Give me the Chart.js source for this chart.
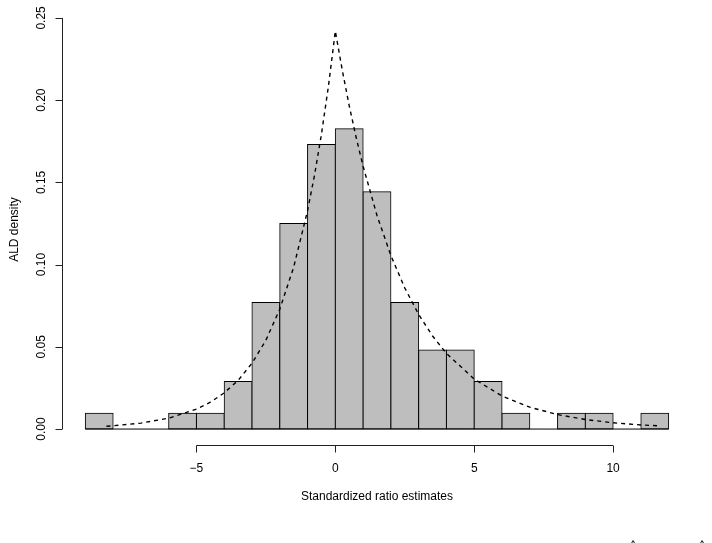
<!DOCTYPE html>
<html>
<head>
<meta charset="utf-8">
<title>ALD density</title>
<script src="https://cdn.jsdelivr.net/npm/chart.js@4.4.1/dist/chart.umd.min.js"></script>
<style>
  html, body { margin: 0; padding: 0; background: #fff; }
  #wrap { width: 712px; height: 543px; }
</style>
</head>
<body>
<div id="wrap"><canvas id="myChart" width="712" height="543"></canvas></div>
<script>
// histogram bins (width 1), counts
const binMids = [-8.5, -7.5, -6.5, -5.5, -4.5, -3.5, -2.5, -1.5, -0.5, 0.5, 1.5,
                 2.5, 3.5, 4.5, 5.5, 6.5, 7.5, 8.5, 9.5, 10.5, 11.5];
const binCounts = [1, 0, 0, 1, 1, 3, 8, 13, 18, 19, 15, 8, 5, 5, 3, 1, 0, 1, 1, 0, 1];
const binWidth = 1;

// dashed ALD density curve
const curveX = [-8.24, -8, -7, -6, -5, -4.5, -4, -3.5, -3, -2.5, -2, -1.5, -1, -0.75, -0.5, -0.25,
                0, 0.25, 0.5, 0.75, 1, 1.5, 2, 2.5, 3, 3.5, 4, 5, 6, 7, 8, 9, 10, 11, 11.58];
const curveY = [0.0017, 0.0020, 0.0036, 0.0066, 0.0121, 0.0163, 0.0220, 0.0296, 0.0400, 0.0540,
                0.0729, 0.0984, 0.1328, 0.1543, 0.1793, 0.2083, 0.2420, 0.2182, 0.1966, 0.1773,
                0.1598, 0.1299, 0.1055, 0.0858, 0.0697, 0.0566, 0.0460, 0.0304, 0.0201, 0.0133,
                0.0088, 0.0058, 0.0038, 0.0025, 0.0020];

const xTicks = [-5, 0, 5, 10];
const yTicks = [0, 0.05, 0.10, 0.15, 0.20, 0.25];
const yTickLabels = ['0.00', '0.05', '0.10', '0.15', '0.20', '0.25'];
const xTitle = 'Standardized ratio estimates';
const yTitle = 'ALD density';

const total = binCounts.reduce((a, b) => a + b, 0);
const barData = binMids.map((m, i) => ({ x: m, y: binCounts[i] / (total * binWidth) }));
const curveData = curveX.map((x, i) => ({ x: x, y: curveY[i] }));
const baseData = [
  { x: binMids[0] - binWidth / 2, y: 0 },
  { x: binMids[binMids.length - 1] + binWidth / 2, y: 0 }
];

const FONT = '12px "Liberation Sans", Arial, Helvetica, sans-serif';

// R style axes: line only from first to last tick, ticks pointing out
const rAxes = {
  id: 'rAxes',
  afterDraw(chart) {
    const ctx = chart.ctx;
    const xs = chart.scales.x;
    const ys = chart.scales.y;
    const area = chart.chartArea;
    ctx.save();
    ctx.strokeStyle = '#222';
    ctx.fillStyle = '#000';
    ctx.lineWidth = 1;
    ctx.font = FONT;

    // y axis
    const ax = Math.round(area.left) + 0.5;
    ctx.beginPath();
    ctx.moveTo(ax, ys.getPixelForValue(yTicks[0]));
    ctx.lineTo(ax, ys.getPixelForValue(yTicks[yTicks.length - 1]));
    yTicks.forEach(v => {
      const py = Math.round(ys.getPixelForValue(v)) + 0.5;
      ctx.moveTo(ax, py);
      ctx.lineTo(ax - 7, py);
    });
    ctx.stroke();
    ctx.textAlign = 'center';
    ctx.textBaseline = 'alphabetic';
    yTicks.forEach((v, i) => {
      ctx.save();
      ctx.translate(area.left - 17, ys.getPixelForValue(v));
      ctx.rotate(-Math.PI / 2);
      ctx.fillText(yTickLabels[i], 0, 0);
      ctx.restore();
    });

    // x axis
    const ay = Math.round(area.bottom) + 0.5;
    ctx.beginPath();
    ctx.moveTo(xs.getPixelForValue(xTicks[0]), ay);
    ctx.lineTo(xs.getPixelForValue(xTicks[xTicks.length - 1]), ay);
    xTicks.forEach(v => {
      const px = Math.round(xs.getPixelForValue(v)) + 0.5;
      ctx.moveTo(px, ay);
      ctx.lineTo(px, ay + 7);
    });
    ctx.stroke();
    xTicks.forEach(v => {
      const lbl = v < 0 ? '\u2212' + Math.abs(v) : String(v);
      ctx.fillText(lbl, xs.getPixelForValue(v), area.bottom + 27);
    });

    // titles
    ctx.fillText(xTitle, (area.left + area.right) / 2, area.bottom + 55);
    ctx.save();
    ctx.translate(18, (area.top + area.bottom) / 2);
    ctx.rotate(-Math.PI / 2);
    ctx.fillText(yTitle, 0, 0);
    ctx.restore();

    // clipped hats at the bottom edge
    ctx.fillText('^', 633, 549);
    ctx.fillText('^', 702, 549);
    ctx.restore();
  }
};

const ctx = document.getElementById('myChart').getContext('2d');

const chartConfig = {
  type: 'bar',
  data: {
    datasets: [
      {
        type: 'line',
        data: curveData,
        borderColor: '#000',
        borderWidth: 1.4,
        borderDash: [4, 4],
        pointRadius: 0,
        tension: 0,
        fill: false,
        order: 0
      },
      {
        type: 'line',
        data: baseData,
        borderColor: '#000',
        borderWidth: 1,
        pointRadius: 0,
        fill: false,
        order: 1
      },
      {
        type: 'bar',
        data: barData,
        backgroundColor: '#bebebe',
        borderColor: '#000',
        borderWidth: 1,
        borderSkipped: false,
        inflateAmount: 0.5,
        barPercentage: 1,
        categoryPercentage: 1,
        grouped: false,
        order: 2
      }
    ]
  },
  options: {
    responsive: false,
    animation: false,
    devicePixelRatio: 1,
    layout: { padding: { left: 62, right: 20, top: 14, bottom: 98 } },
    plugins: {
      legend: { display: false },
      tooltip: { enabled: false }
    },
    scales: {
      x: {
        type: 'linear',
        display: false,
        offset: false,
        bounds: 'data',
        min: -9.84,
        max: 12.84
      },
      y: {
        type: 'linear',
        display: false,
        bounds: 'data',
        min: -0.0097,
        max: 0.2524
      }
    }
  },
  plugins: [rAxes]
};

const myChart = new Chart(ctx, chartConfig);
</script>
</body>
</html>
